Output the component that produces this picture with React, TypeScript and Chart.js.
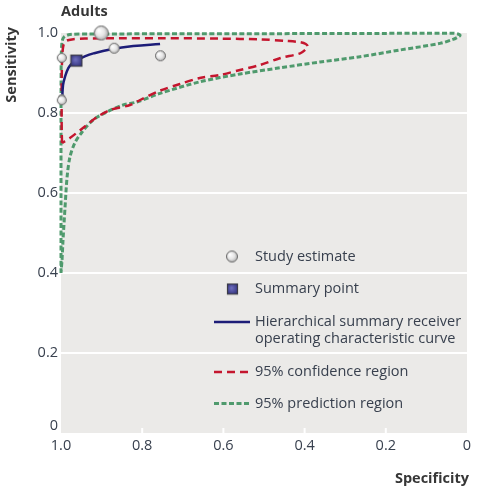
import React, { useEffect, useRef } from "react";
import { Chart, registerables } from "chart.js";
Chart.register(...registerables);

// ---- data ----
const studySpecificity = [0.901, 0.998, 0.869, 0.755, 0.998, 0.998];
const studySensitivity = [1.0, 0.938, 0.962, 0.943, 0.839, 0.832];
const studyWeight = [7.5, 5, 5.5, 5.5, 3.5, 5];

const summarySpecificity = [0.962];
const summarySensitivity = [0.931];

const hsrocSpecificity = [0.997, 0.995, 0.99, 0.982, 0.973, 0.962, 0.94, 0.92, 0.879, 0.822, 0.756];
const hsrocSensitivity = [0.835, 0.87, 0.891, 0.912, 0.924, 0.931, 0.942, 0.949, 0.959, 0.9675, 0.9725];

const confSpecificity = [
  0.9975, 0.9983, 0.9985, 0.9985, 0.998, 0.9968, 0.9938, 0.9877, 0.973, 0.941, 0.855, 0.756, 0.608, 0.51,
  0.443, 0.411, 0.397, 0.392, 0.399, 0.411, 0.461, 0.51, 0.559, 0.608, 0.658, 0.707, 0.756, 0.805, 0.83,
  0.879, 0.911, 0.946, 0.978, 0.9975,
];
const confSensitivity = [
  0.725, 0.7575, 0.8075, 0.8575, 0.9075, 0.945, 0.97, 0.98, 0.984, 0.986, 0.987, 0.987, 0.986, 0.984,
  0.98, 0.977, 0.9725, 0.966, 0.9575, 0.949, 0.937, 0.92, 0.9075, 0.895, 0.8875, 0.8725, 0.856, 0.8325, 0.82,
  0.8075, 0.79, 0.7625, 0.7375, 0.725,
];

const predSpecificity = [
  1.0, 1.0, 1.0, 0.9995, 0.9975, 0.9926, 0.978, 0.9286, 0.658, 0.288, 0.0345, 0.022, 0.0172, 0.0246,
  0.0345, 0.0665, 0.165, 0.2635, 0.362, 0.4606, 0.559, 0.658, 0.756, 0.813, 0.847, 0.887, 0.921, 0.948,
  0.966, 0.978, 0.985, 0.99, 0.995, 0.9975, 1.0,
];
const predSensitivity = [
  0.4, 0.5825, 0.7825, 0.9325, 0.9775, 0.99, 0.99625, 0.9975, 0.998, 0.99875, 0.99925, 0.9975, 0.99375,
  0.98875, 0.984, 0.974, 0.9575, 0.94075, 0.9275, 0.913, 0.8975, 0.878, 0.849, 0.8275, 0.82, 0.8025,
  0.7825, 0.7525, 0.725, 0.69, 0.64, 0.565, 0.4825, 0.4325, 0.4,
];

const axisTickValues = [1, 0.8, 0.6, 0.4, 0.2, 0];
const axisTickLabels = ["1.0", "0.8", "0.6", "0.4", "0.2", "0"];

const legendLabels = [
  "Study estimate",
  "Summary point",
  "Hierarchical summary receiver",
  "operating characteristic curve",
  "95% confidence region",
  "95% prediction region",
];
const chartTitle = "Adults";
const yTitle = "Sensitivity";
const xTitle = "Specificity";

// ---- styles ----
const FONT = "'Open Sans', 'Noto Sans', sans-serif";
const TEXT = "#38404e";
const TITLE = "#363636";
const NAVY = "#1d1d78";
const RED = "#c4162e";
const GREEN = "#4f9a6d";
const BG = "#ebeae8";

const pts = (xs: number[], ys: number[]) => xs.map((x, i) => ({ x, y: ys[i] }));

function sphere(r: number): HTMLCanvasElement {
  const s = Math.ceil(2 * r + 2);
  const c = document.createElement("canvas");
  c.width = s;
  c.height = s;
  const g = c.getContext("2d")!;
  const cx = s / 2;
  const cy = s / 2;
  const grad = g.createRadialGradient(cx - r * 0.35, cy - r * 0.35, r * 0.05, cx, cy, r);
  grad.addColorStop(0, "#ffffff");
  grad.addColorStop(0.55, "#e6e6e6");
  grad.addColorStop(1, "#a9a9a9");
  g.beginPath();
  g.arc(cx, cy, r - 0.5, 0, Math.PI * 2);
  g.fillStyle = grad;
  g.fill();
  g.lineWidth = 1;
  g.strokeStyle = "#6a6a6a";
  g.stroke();
  return c;
}

function squareMarker(size: number): HTMLCanvasElement {
  const s = Math.ceil(size + 2);
  const c = document.createElement("canvas");
  c.width = s;
  c.height = s;
  const g = c.getContext("2d")!;
  const o = (s - size) / 2;
  const grad = g.createRadialGradient(s / 2 - 1, s / 2 - 1, 0.5, s / 2, s / 2, size * 0.7);
  grad.addColorStop(0, "#6c6cbc");
  grad.addColorStop(1, "#24246e");
  g.fillStyle = grad;
  g.fillRect(o, o, size, size);
  g.lineWidth = 1.2;
  g.strokeStyle = "#3c3c46";
  g.strokeRect(o + 0.5, o + 0.5, size - 1, size - 1);
  return c;
}

const decorPlugin = {
  id: "decor",
  beforeDraw(chart: any) {
    const { ctx, chartArea: a } = chart;
    ctx.save();
    ctx.fillStyle = BG;
    ctx.fillRect(a.left, a.top, a.right - a.left, a.bottom - a.top);
    const xs = chart.scales.x;
    ctx.strokeStyle = "#ffffff";
    ctx.lineWidth = 2;
    axisTickValues.forEach((v) => {
      if (v <= 0 || v >= 1) return;
      const px = xs.getPixelForValue(v);
      ctx.beginPath();
      ctx.moveTo(px, a.bottom - 5);
      ctx.lineTo(px, a.bottom);
      ctx.stroke();
    });
    ctx.restore();
  },
  afterDraw(chart: any) {
    const { ctx, chartArea: a } = chart;
    const ys = chart.scales.y;
    ctx.save();
    ctx.font = `14.5px ${FONT}`;
    ctx.fillStyle = TEXT;
    ctx.textAlign = "right";
    ctx.textBaseline = "middle";
    axisTickValues.forEach((v, i) => {
      const py = Math.min(ys.getPixelForValue(v), a.bottom - 7);
      ctx.fillText(axisTickLabels[i], a.left - 3, py);
    });
    ctx.fillStyle = TITLE;
    ctx.font = `bold 14.5px ${FONT}`;
    ctx.textAlign = "left";
    ctx.fillText(chartTitle, a.left, 12);
    ctx.textAlign = "right";
    ctx.fillText(xTitle, 469, 479);
    ctx.save();
    ctx.translate(12, 27);
    ctx.rotate(-Math.PI / 2);
    ctx.textAlign = "right";
    ctx.fillText(yTitle, 0, 0);
    ctx.restore();

    const tx = 255;
    ctx.font = `14.5px ${FONT}`;
    ctx.fillStyle = TEXT;
    ctx.textAlign = "left";
    ctx.textBaseline = "middle";
    const s = sphere(6);
    ctx.drawImage(s, 232 - s.width / 2, 256.5 - s.height / 2);
    ctx.fillText(legendLabels[0], tx, 256.5);
    const q = squareMarker(11);
    ctx.drawImage(q, 232.5 - q.width / 2, 289 - q.height / 2);
    ctx.fillText(legendLabels[1], tx, 288.5);
    ctx.fillText(legendLabels[2], tx, 322);
    ctx.fillText(legendLabels[3], tx, 338.5);
    ctx.fillText(legendLabels[4], tx, 372);
    ctx.fillText(legendLabels[5], tx, 403.5);

    ctx.lineWidth = 2.5;
    ctx.strokeStyle = NAVY;
    ctx.beginPath();
    ctx.moveTo(214, 322);
    ctx.lineTo(250, 322);
    ctx.stroke();
    ctx.strokeStyle = RED;
    ctx.setLineDash([8, 5]);
    ctx.beginPath();
    ctx.moveTo(214, 372);
    ctx.lineTo(250, 372);
    ctx.stroke();
    ctx.strokeStyle = GREEN;
    ctx.lineWidth = 3;
    ctx.setLineDash([5, 2.5]);
    ctx.beginPath();
    ctx.moveTo(214, 403.5);
    ctx.lineTo(250, 403.5);
    ctx.stroke();
    ctx.restore();
  },
};

export default function App() {
  const ref = useRef<HTMLCanvasElement>(null);
  useEffect(() => {
    if (!ref.current) return;
    const sphereCache: Record<number, HTMLCanvasElement> = {};
    const getSphere = (r: number) => (sphereCache[r] = sphereCache[r] || sphere(r));
    const chart = new Chart(ref.current, {
      type: "scatter",
      data: {
        datasets: [
          {
            label: "Study estimate",
            data: pts(studySpecificity, studySensitivity),
            pointStyle: (c: any) => getSphere(studyWeight[c.dataIndex] ?? 5),
            pointRadius: (c: any) => studyWeight[c.dataIndex] ?? 5,
            clip: false,
          } as any,
          {
            label: "Summary point",
            data: pts(summarySpecificity, summarySensitivity),
            pointStyle: squareMarker(12),
            pointRadius: 6,
            clip: false,
          } as any,
          {
            label: "HSROC",
            data: pts(hsrocSpecificity, hsrocSensitivity),
            showLine: true,
            borderColor: NAVY,
            borderWidth: 2.5,
            pointRadius: 0,
            tension: 0.4,
            clip: false,
          } as any,
          {
            label: "95% confidence region",
            data: pts(confSpecificity, confSensitivity),
            showLine: true,
            borderColor: RED,
            borderWidth: 2.5,
            borderDash: [8, 5],
            pointRadius: 0,
            tension: 0.3,
            clip: false,
          } as any,
          {
            label: "95% prediction region",
            data: pts(predSpecificity, predSensitivity),
            showLine: true,
            borderColor: GREEN,
            borderWidth: 3,
            borderDash: [5, 2.5],
            pointRadius: 0,
            tension: 0.3,
            clip: false,
          } as any,
        ],
      },
      options: {
        animation: false,
        responsive: false,
        devicePixelRatio: 1,
        layout: { padding: { top: 33, right: 15, left: 0, bottom: 0 } },
        plugins: { legend: { display: false }, tooltip: { enabled: false } },
        scales: {
          x: {
            type: "linear",
            reverse: true,
            min: 0,
            max: 1,
            border: { display: false },
            grid: { display: false, drawTicks: false },
            afterBuildTicks: (s: any) => {
              s.ticks = axisTickValues.map((v) => ({ value: v }));
            },
            afterFit: (s: any) => {
              s.height = 69;
            },
            ticks: {
              autoSkip: false,
              maxRotation: 0,
              padding: 4,
              color: TEXT,
              font: { family: FONT, size: 14.5 },
              callback: (v: any) => {
                const i = axisTickValues.findIndex((t) => Math.abs(t - Number(v)) < 1e-6);
                return i >= 0 ? axisTickLabels[i] : "";
              },
            },
          },
          y: {
            type: "linear",
            min: 0,
            max: 1,
            border: { display: false },
            afterBuildTicks: (s: any) => {
              s.ticks = axisTickValues.map((v) => ({ value: v }));
            },
            afterFit: (s: any) => {
              s.width = 61;
            },
            grid: {
              drawTicks: false,
              lineWidth: 2,
              color: (c: any) => (c.tick && c.tick.value > 0.001 && c.tick.value < 0.999 ? "#ffffff" : "rgba(0,0,0,0)"),
            },
            ticks: { display: false },
          },
        },
      } as any,
      plugins: [decorPlugin],
    });
    return () => chart.destroy();
  }, []);
  return (
    <div style={{ position: "absolute", left: 0, top: 0, width: 482, height: 502 }}>
      <canvas ref={ref} width={482} height={502} />
    </div>
  );
}
